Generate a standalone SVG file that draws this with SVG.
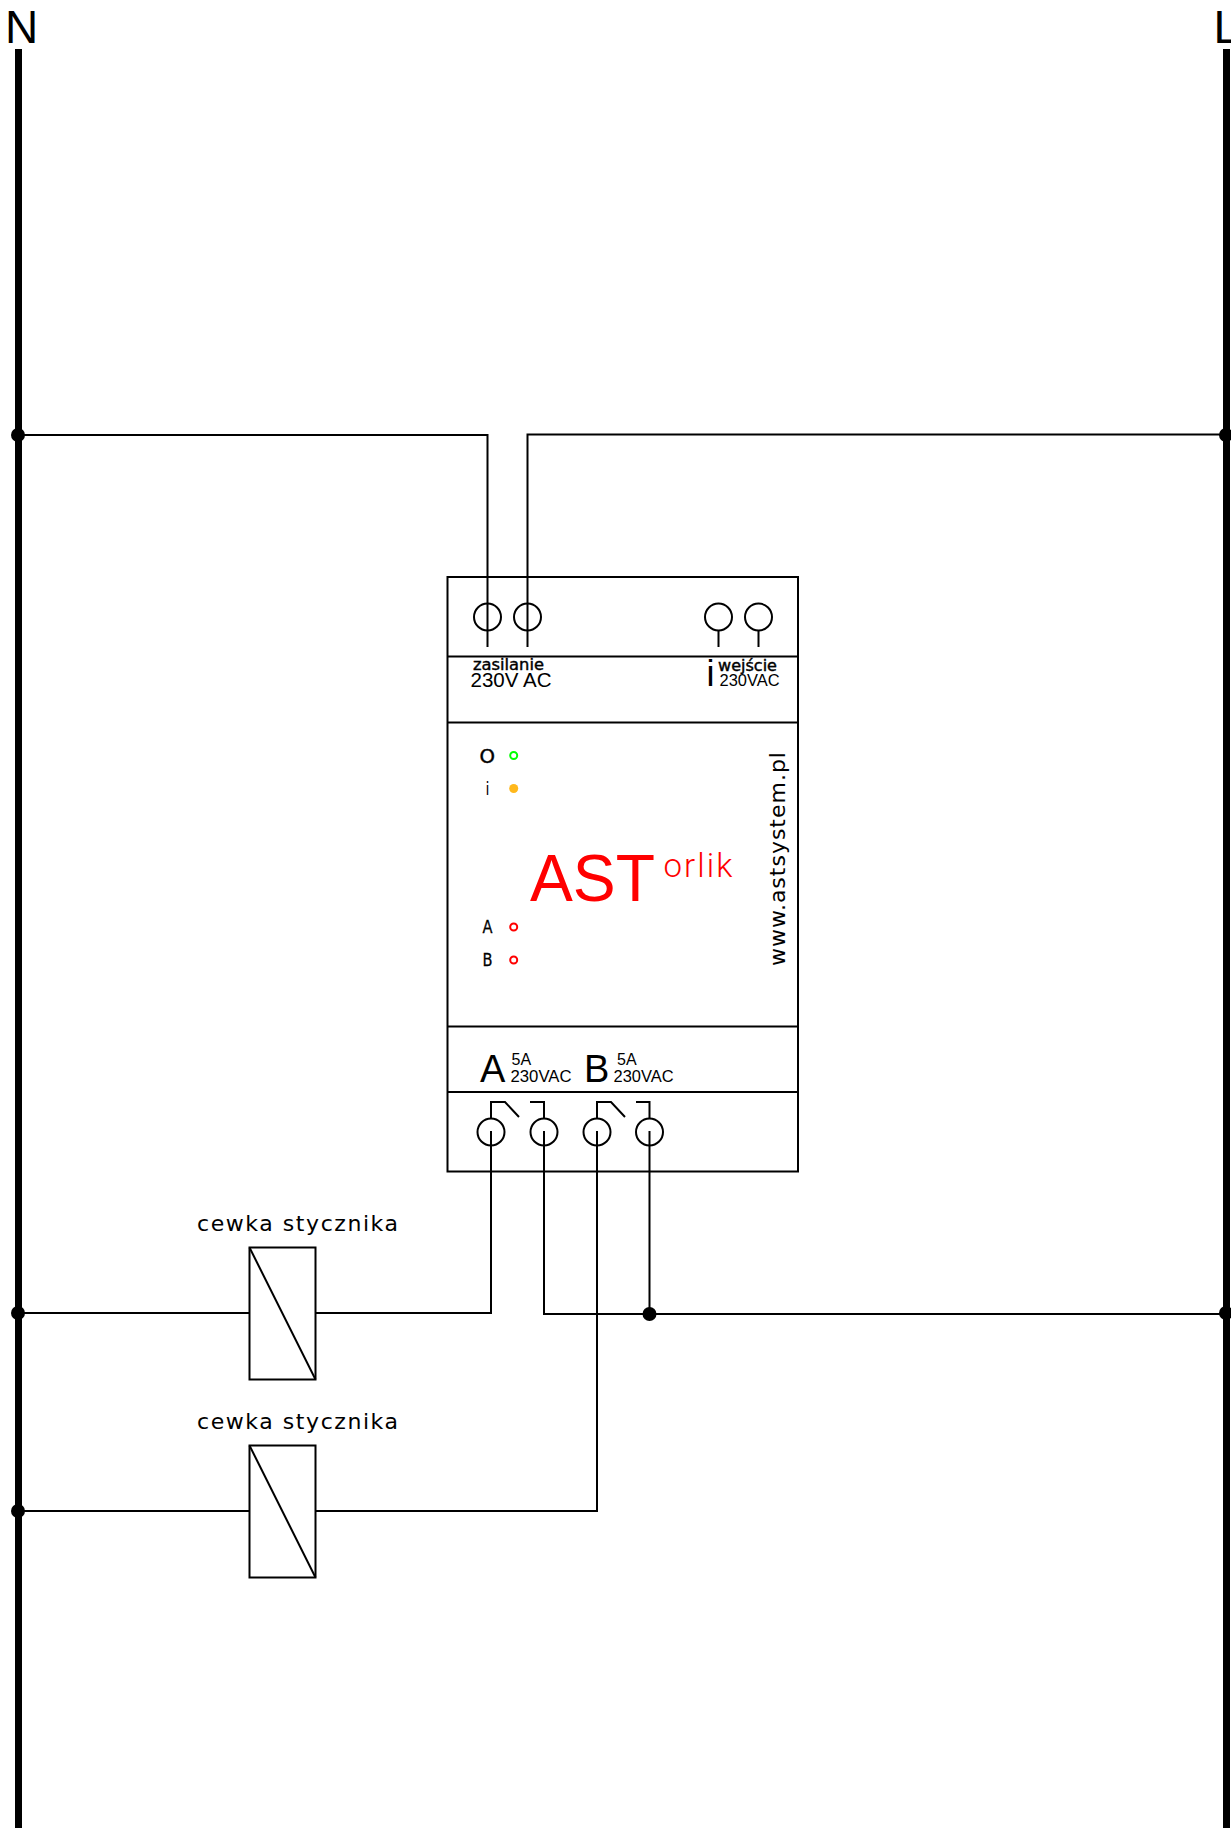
<svg xmlns="http://www.w3.org/2000/svg" width="1231" height="1828" viewBox="0 0 1231 1828">
<style>
.l{fill:none;stroke:#000;stroke-width:2}
.r{fill:none;stroke:#000;stroke-width:7}
.j{fill:#000}
.a{font-family:"Liberation Sans",Arial,sans-serif;fill:#000}
.s{font-family:"DejaVu Sans",sans-serif;fill:#000}
.led{fill:none;stroke-width:2}
</style>
<rect width="1231" height="1828" fill="#fff"/>
<g id="connectors">
<path class="r" d="M18.500 49V1828M1226.500 49V1828"/>
<path class="l" d="M18 435H487.500V647M527.500 647V434.500H1226"/>
<path class="l" d="M718.500 631V647M758.500 631V647"/>
<path class="l" d="M18 1313H249.500M315.500 1313H491V1131M544 1131V1314H1226M649.500 1131V1314"/>
<path class="l" d="M18 1511H249.500M315.500 1511H597V1131"/>
<path class="l" d="M491 1118V1102H505L519 1117M530 1102H544V1118M597 1118V1102H611L625 1117M636 1102H649.500V1118"/>
<circle class="j" cx="18" cy="435" r="7"/>
<circle class="j" cx="1226" cy="435" r="7"/>
<circle class="j" cx="18" cy="1313" r="7"/>
<circle class="j" cx="1226" cy="1313" r="7"/>
<circle class="j" cx="18" cy="1511" r="7"/>
<circle class="j" cx="649.500" cy="1314" r="7"/>
</g>
<g id="rail-N"><text class="a" x="5" y="43" font-size="46">N</text></g>
<g id="rail-L"><text class="a" x="1213.500" y="43" font-size="46">L</text></g>
<g id="device">
<rect class="l" x="447.500" y="577" width="350.500" height="594.500"/>
<path class="l" d="M447.500 656.500H798M447.500 722.500H798M447.500 1026.500H798M447.500 1092H798"/>
<circle class="l" cx="487.500" cy="617" r="13.500"/>
<circle class="l" cx="527.500" cy="617" r="13.500"/>
<circle class="l" cx="718.500" cy="617" r="13.500"/>
<circle class="l" cx="758.500" cy="617" r="13.500"/>
<circle class="l" cx="491" cy="1132" r="13.500"/>
<circle class="l" cx="544" cy="1132" r="13.500"/>
<circle class="l" cx="597" cy="1132" r="13.500"/>
<circle class="l" cx="649.500" cy="1132" r="13.500"/>
<text class="s" x="473" y="670" font-size="15" textLength="71" lengthAdjust="spacingAndGlyphs" stroke="#000" stroke-width=".4">zasilanie</text>
<text class="a" x="470.500" y="687" font-size="20" textLength="81" lengthAdjust="spacingAndGlyphs">230V AC</text>
<text class="a" x="706.500" y="686" font-size="36" textLength="8" lengthAdjust="spacingAndGlyphs">i</text>
<text class="s" x="718" y="671" font-size="15" textLength="59" lengthAdjust="spacingAndGlyphs" stroke="#000" stroke-width=".4">wejście</text>
<text class="a" x="719.500" y="686" font-size="17" textLength="60" lengthAdjust="spacingAndGlyphs">230VAC</text>
<text class="s" x="479.500" y="762.500" font-size="19" textLength="15.500" lengthAdjust="spacingAndGlyphs" stroke="#000" stroke-width=".4">O</text>
<text class="s" x="485.500" y="795" font-size="17" textLength="4" lengthAdjust="spacingAndGlyphs">i</text>
<text class="s" x="482.500" y="933" font-size="17" textLength="10" lengthAdjust="spacingAndGlyphs" stroke="#000" stroke-width=".3">A</text>
<text class="s" x="482.500" y="966" font-size="17" textLength="10" lengthAdjust="spacingAndGlyphs" stroke="#000" stroke-width=".3">B</text>
<circle class="led" cx="513.700" cy="755.500" r="3.500" stroke="#0f0"/>
<circle cx="513.700" cy="788.500" r="4.500" fill="#ffb81c"/>
<circle class="led" cx="513.700" cy="927" r="3.500" stroke="#f00"/>
<circle class="led" cx="513.700" cy="960" r="3.500" stroke="#f00"/>
<text x="530" y="901" font-family="'Liberation Sans',Arial,sans-serif" font-size="66" fill="#f00" textLength="125" lengthAdjust="spacingAndGlyphs">AST</text>
<text x="663.500" y="877" font-family="Roboto,sans-serif" font-size="33" fill="#f00" textLength="69" lengthAdjust="spacing" font-weight="300">orlik</text>
<text class="s" transform="translate(785 966) rotate(-90)" font-size="22" textLength="214" lengthAdjust="spacing">www.astsystem.pl</text>
<text class="a" x="480" y="1082" font-size="38">A</text>
<text class="a" x="511.500" y="1065" font-size="16">5A</text>
<text class="a" x="510.500" y="1082" font-size="17" textLength="61" lengthAdjust="spacingAndGlyphs">230VAC</text>
<text class="a" x="584" y="1082" font-size="38">B</text>
<text class="a" x="617" y="1065" font-size="16">5A</text>
<text class="a" x="613.500" y="1082" font-size="17" textLength="60" lengthAdjust="spacingAndGlyphs">230VAC</text>
</g>
<g id="coil-1">
<rect class="l" x="249.500" y="1247.500" width="66" height="132"/>
<path class="l" d="M249.500 1247.500L315.500 1379.500"/>
<text class="s" x="197" y="1231" font-size="22" textLength="201" lengthAdjust="spacing">cewka stycznika</text>
</g>
<g id="coil-2">
<rect class="l" x="249.500" y="1445.500" width="66" height="132"/>
<path class="l" d="M249.500 1445.500L315.500 1577.500"/>
<text class="s" x="197" y="1429" font-size="22" textLength="201" lengthAdjust="spacing">cewka stycznika</text>
</g>
</svg>
